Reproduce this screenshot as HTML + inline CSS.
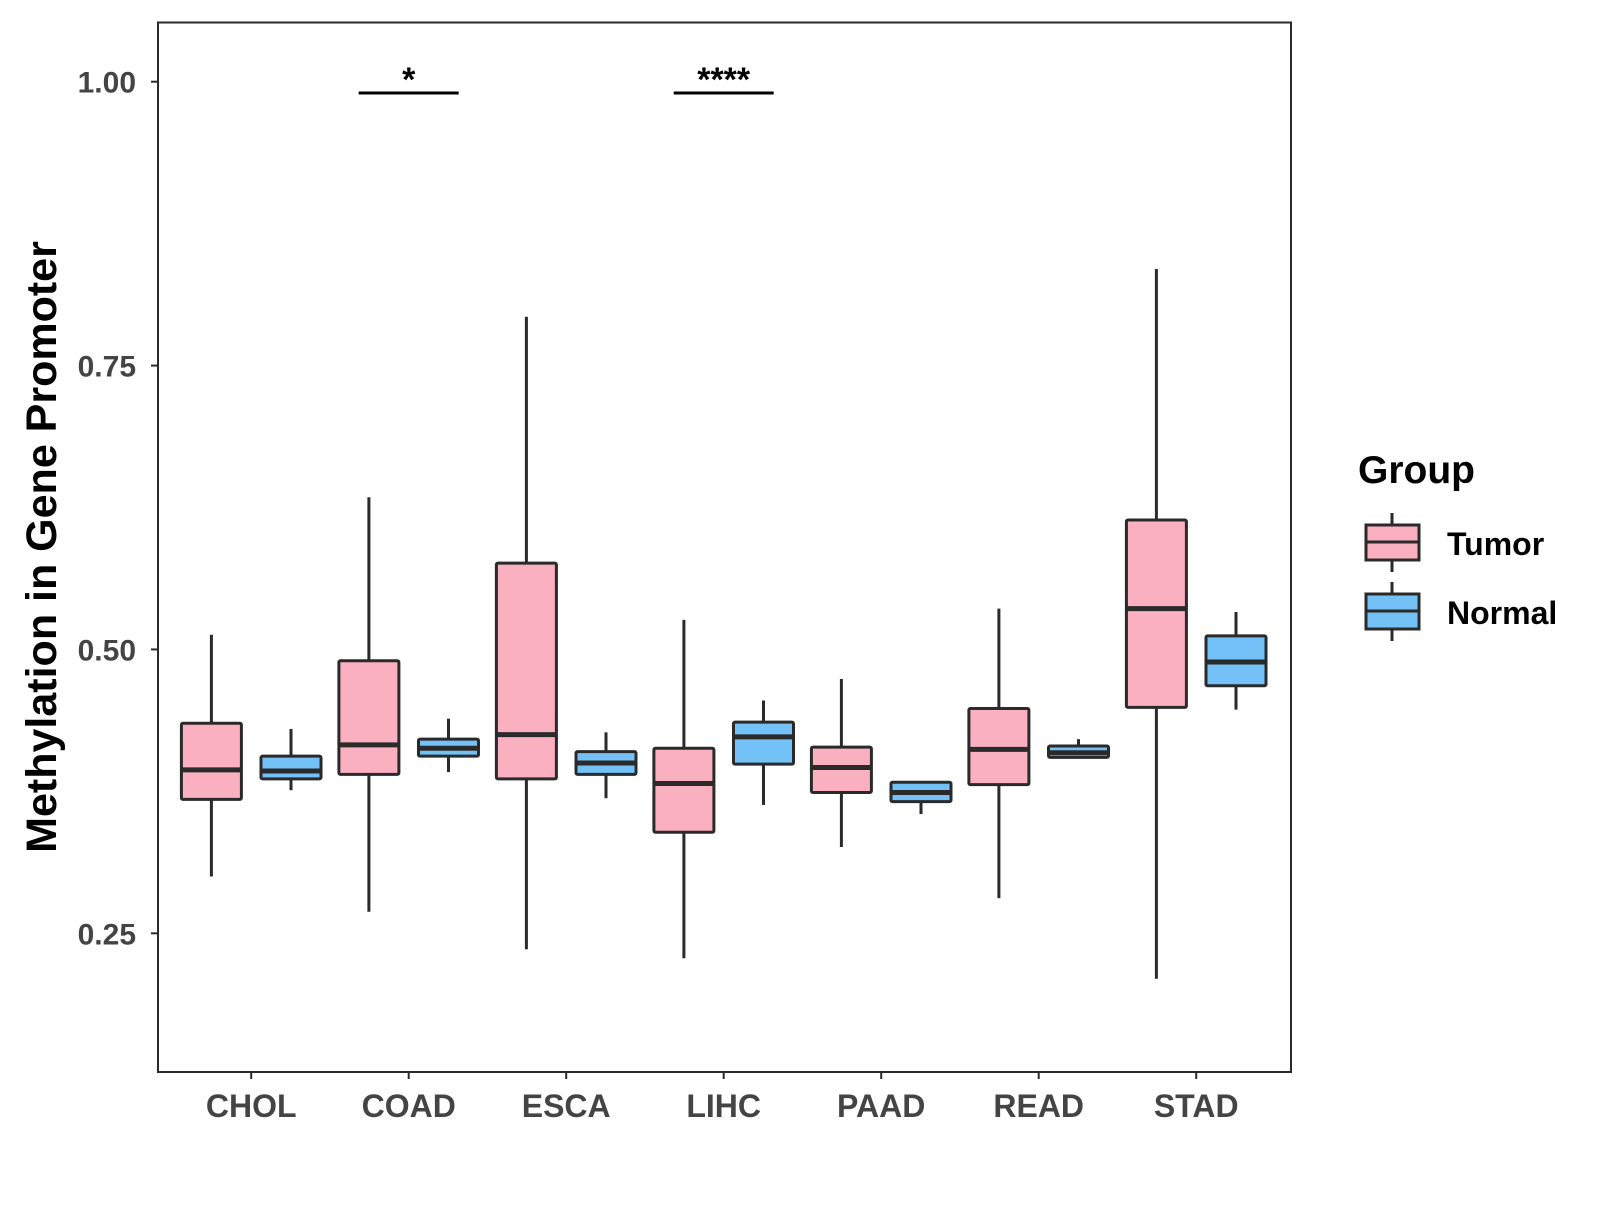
<!DOCTYPE html>
<html><head><meta charset="utf-8"><style>
body{margin:0;background:#fff;width:1600px;height:1200px;overflow:hidden}
svg text{font-family:"Liberation Sans",Arial,sans-serif;font-weight:bold}
</style></head><body>
<svg id="chart" width="1600" height="1200" xmlns="http://www.w3.org/2000/svg">
<rect x="158" y="22.5" width="1133" height="1049.5" fill="#fff" stroke="#2a2a2a" stroke-width="2"/>
<g id="marks"></g>
<text x="0" y="0" transform="translate(56,547) rotate(-90)" text-anchor="middle" font-size="43" fill="#000">Methylation in Gene Promoter</text>
<text x="1358" y="483" font-size="39" fill="#000">Group</text>
<g>
<line x1="1392" y1="513" x2="1392" y2="572" stroke="#2a2a2a" stroke-width="3"/>
<rect x="1366" y="525" width="53" height="35" fill="#FBB0C2" stroke="#2a2a2a" stroke-width="3"/>
<line x1="1366" y1="542" x2="1419" y2="542" stroke="#2a2a2a" stroke-width="3"/>
<text x="1447" y="555" font-size="32" fill="#000">Tumor</text></g>
<g>
<line x1="1392" y1="582" x2="1392" y2="641" stroke="#2a2a2a" stroke-width="3"/>
<rect x="1366" y="594" width="53" height="35" fill="#74C1F7" stroke="#2a2a2a" stroke-width="3"/>
<line x1="1366" y1="611" x2="1419" y2="611" stroke="#2a2a2a" stroke-width="3"/>
<text x="1447" y="624" font-size="32" fill="#000">Normal</text></g>
</svg>
<script>
const categories=["CHOL","COAD","ESCA","LIHC","PAAD","READ","STAD"];
// [lower whisker, q1, median, q3, upper whisker]
const tumor=[[0.300,0.368,0.394,0.435,0.513],[0.269,0.390,0.416,0.490,0.634],[0.236,0.386,0.425,0.576,0.793],[0.228,0.339,0.382,0.413,0.526],[0.326,0.374,0.396,0.414,0.474],[0.281,0.381,0.412,0.448,0.536],[0.210,0.449,0.536,0.614,0.835]];
const normal=[[0.376,0.386,0.393,0.406,0.430],[0.392,0.406,0.413,0.421,0.439],[0.369,0.390,0.400,0.410,0.427],[0.363,0.399,0.423,0.436,0.455],[0.355,0.366,0.374,0.383,0.383],[0.405,0.405,0.409,0.415,0.421],[0.447,0.468,0.489,0.512,0.533]];
const yTicks=[0.25,0.50,0.75,1.00];
const yTickLabels=["0.25","0.50","0.75","1.00"];
const sigCats=["COAD","LIHC"];
const sigLabels=["*","****"];
const sigY=[0.99,0.99];
const NS="http://www.w3.org/2000/svg";
const g=document.getElementById('marks');
const y=v=>81.7+(1-v)*1135.5;
const x=i=>251.2+i*157.5;
function el(t,a,p){const e=document.createElementNS(NS,t);for(const k in a)e.setAttribute(k,a[k]);(p||g).appendChild(e);return e;}
yTicks.forEach((v,i)=>{
 const t=el('line',{x1:151,x2:158,y1:y(v),y2:y(v),stroke:'#2a2a2a','stroke-width':2});
 
 
 const l=el('text',{x:136,y:y(v)+11,'text-anchor':'end','font-size':30,fill:'#444'});
 l.textContent=yTickLabels[i];
 
 
});
categories.forEach((c,i)=>{
 const t=el('line',{x1:x(i),x2:x(i),y1:1072,y2:1079,stroke:'#2a2a2a','stroke-width':2});
 
 
 const l=el('text',{x:x(i),y:1117,'text-anchor':'middle','font-size':32,fill:'#444'});
 l.textContent=c;
 
 
});
function box(cx,d,fill,name){
 const grp=el('g',{});
 
 
 el('line',{x1:cx,x2:cx,y1:y(d[0]),y2:y(d[4]),stroke:'#2a2a2a','stroke-width':3},grp);
 el('rect',{x:cx-30,y:y(d[3]),width:60,height:y(d[1])-y(d[3]),fill:fill,stroke:'#2a2a2a','stroke-width':3,rx:1.5},grp);
 el('line',{x1:cx-30,x2:cx+30,y1:y(d[2]),y2:y(d[2]),stroke:'#2a2a2a','stroke-width':5},grp);
}
categories.forEach((c,i)=>{
 box(x(i)-39.8,tumor[i],'#FBB0C2','box-tumor-'+c.toLowerCase());
 box(x(i)+39.8,normal[i],'#74C1F7','box-normal-'+c.toLowerCase());
});
sigCats.forEach((c,j)=>{
 const i=categories.indexOf(c);
 const s=el('line',{x1:x(i)-50,x2:x(i)+50,y1:y(sigY[j]),y2:y(sigY[j]),stroke:'#000','stroke-width':3});
 
 
 const t=el('text',{x:x(i),y:y(sigY[j])-2,'text-anchor':'middle','font-size':34,fill:'#000'});
 t.textContent=sigLabels[j];
 
 
});
</script>
</body></html>
